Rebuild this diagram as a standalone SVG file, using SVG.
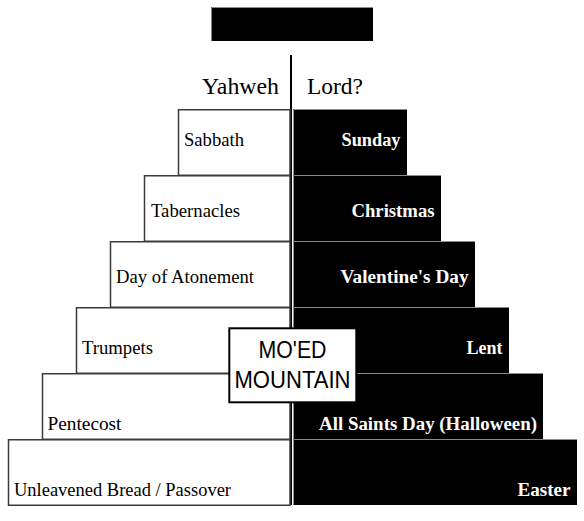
<svg xmlns="http://www.w3.org/2000/svg" width="584" height="521" viewBox="0 0 584 521">
<style>
.wb{fill:#fff;stroke:#3a3a3a;stroke-width:1.5}
.bb{fill:#000}
.gl{stroke:#8a8a8a;stroke-width:1;fill:none}
.lt{font-family:"Liberation Serif","Times New Roman",serif;font-size:18.67px;fill:#000}
.rt{font-family:"Liberation Serif","Times New Roman",serif;font-size:18.67px;font-weight:bold;fill:#fff;text-anchor:end}
.hd{font-family:"Liberation Serif","Times New Roman",serif;font-size:24px;fill:#000}
.mt{font-family:"Liberation Sans",Arial,sans-serif;font-size:24px;fill:#000;text-anchor:middle}
</style>
<rect width="584" height="521" fill="#fff"/>
<g id="title">
<rect x="211" y="7" width="162" height="34" class="bb"/>
<path d="M211.5 41V7.5H373" class="gl"/>
</g>
<g id="connectors">
<line x1="291" y1="55" x2="291" y2="505" stroke="#000" stroke-width="2"/>
</g>
<g id="headers">
<text x="279" y="94" class="hd" text-anchor="end" textLength="77" lengthAdjust="spacingAndGlyphs">Yahweh</text>
<text x="307" y="94" class="hd" textLength="56" lengthAdjust="spacingAndGlyphs">Lord?</text>
</g>
<g id="sabbath"><rect x="178.5" y="109.75" width="111.5" height="65.5" class="wb"/><text x="184" y="146" class="lt" textLength="60" lengthAdjust="spacingAndGlyphs">Sabbath</text></g>
<g id="tabernacles"><rect x="144.5" y="175.75" width="145.5" height="65.5" class="wb"/><text x="151" y="217" class="lt" textLength="89" lengthAdjust="spacingAndGlyphs">Tabernacles</text></g>
<g id="atonement"><rect x="110.5" y="241.75" width="179.5" height="65.5" class="wb"/><text x="116" y="283" class="lt" textLength="138" lengthAdjust="spacingAndGlyphs">Day of Atonement</text></g>
<g id="trumpets"><rect x="76.5" y="307.75" width="213.5" height="65.5" class="wb"/><text x="82" y="354" class="lt" textLength="71" lengthAdjust="spacingAndGlyphs">Trumpets</text></g>
<g id="pentecost"><rect x="42.5" y="373.75" width="247.5" height="65.5" class="wb"/><text x="47.5" y="430" class="lt" textLength="74" lengthAdjust="spacingAndGlyphs">Pentecost</text></g>
<g id="passover"><rect x="8.5" y="439.75" width="281.5" height="65.5" class="wb"/><text x="14" y="496" class="lt" textLength="217" lengthAdjust="spacingAndGlyphs">Unleavened Bread / Passover</text></g>
<g id="sunday"><rect x="293" y="109" width="114" height="66" class="bb"/><path d="M293.5 175V109.5H407" class="gl"/><text x="400.5" y="146" class="rt" textLength="59" lengthAdjust="spacingAndGlyphs">Sunday</text></g>
<g id="christmas"><rect x="293" y="175" width="148" height="66" class="bb"/><path d="M293.5 241V175.5H441" class="gl"/><text x="434.5" y="217" class="rt" textLength="83" lengthAdjust="spacingAndGlyphs">Christmas</text></g>
<g id="valentines"><rect x="293" y="241" width="182" height="66" class="bb"/><path d="M293.5 307V241.5H475" class="gl"/><text x="468.5" y="283" class="rt" textLength="128" lengthAdjust="spacingAndGlyphs">Valentine's Day</text></g>
<g id="lent"><rect x="293" y="307" width="216" height="66" class="bb"/><path d="M293.5 373V307.5H509" class="gl"/><text x="502.5" y="354" class="rt" textLength="36" lengthAdjust="spacingAndGlyphs">Lent</text></g>
<g id="halloween"><rect x="293" y="373" width="250" height="66" class="bb"/><path d="M293.5 439V373.5H543" class="gl"/><text x="537" y="430" class="rt" textLength="218" lengthAdjust="spacingAndGlyphs">All Saints Day (Halloween)</text></g>
<g id="easter"><rect x="293" y="439" width="284" height="66" class="bb"/><path d="M293.5 505V439.5H577" class="gl"/><text x="570.5" y="496" class="rt" textLength="53" lengthAdjust="spacingAndGlyphs">Easter</text></g>
<g id="moed">
<rect x="229.3" y="328.3" width="127" height="74" fill="#fff" stroke="#000" stroke-width="2"/>
<text x="292.5" y="358.3" class="mt" textLength="68" lengthAdjust="spacingAndGlyphs">MO'ED</text>
<text x="292.5" y="388.3" class="mt" textLength="116" lengthAdjust="spacingAndGlyphs">MOUNTAIN</text>
</g>
</svg>
